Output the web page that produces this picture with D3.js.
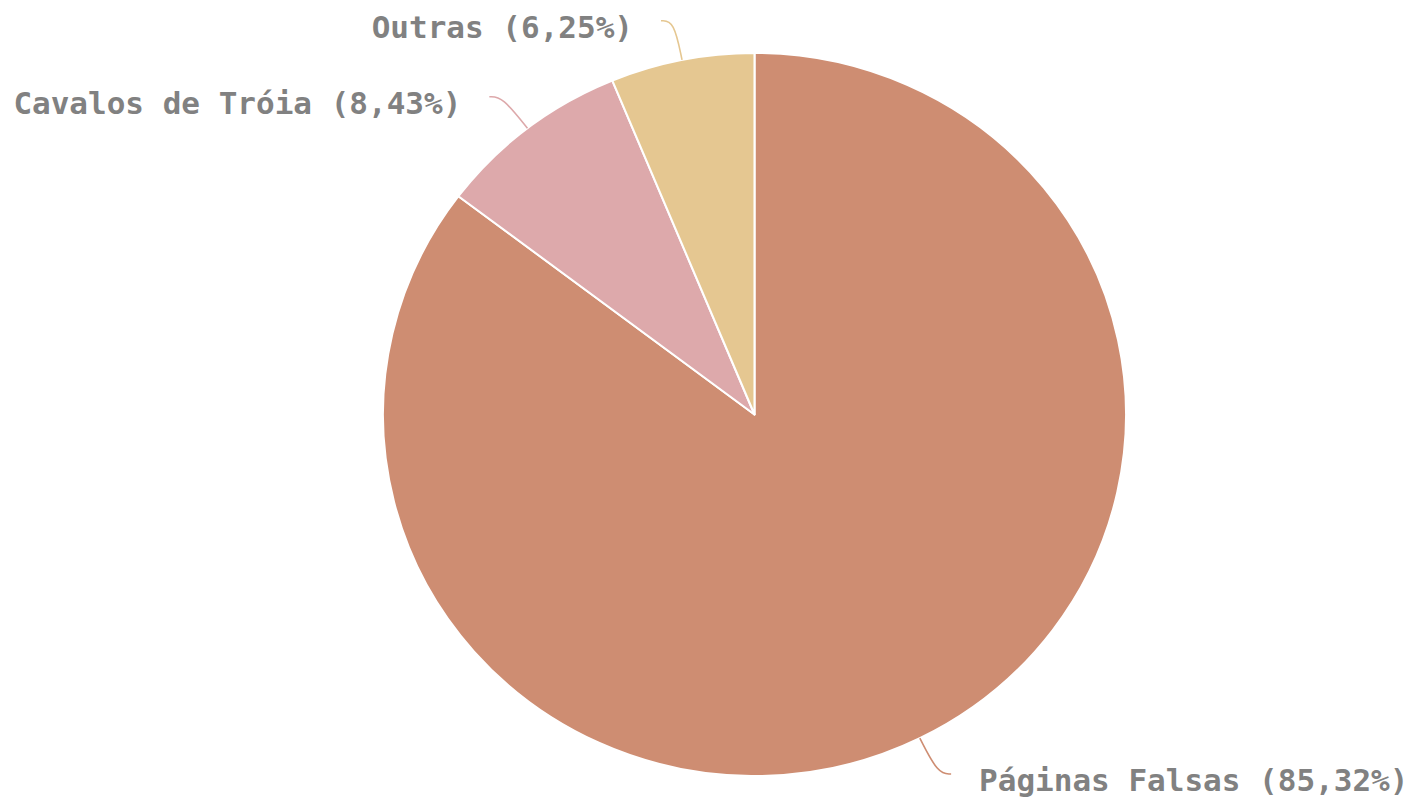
<!DOCTYPE html>
<html>
<head>
<meta charset="utf-8">
<script src="https://cdn.jsdelivr.net/npm/d3@7"></script>
<style>
  body { margin: 0; background: #fff; }
  .texto { font-family: "DejaVu Sans Mono", monospace; font-weight: bold; font-size: 31px; fill: #818181; }
</style>
</head>
<body>
<div id="chart"></div>
<script>
const width = 1412
const height = 806
const cx = 754.5
const cy = 414.5
const radius = 361.5
const stretch = 371 / 361   // the reference pie is a bit wider than tall

const categorias = ["Páginas Falsas", "Cavalos de Tróia", "Outras"]
const valores = [85.32, 8.43, 6.25]
const etiquetas = ["85,32%", "8,43%", "6,25%"]
const cores = ["#ce8d72", "#dda9ab", "#e5c791"]

const data = categorias.map((c, i) => ({ name: c, value: valores[i], label: etiquetas[i], color: cores[i] }))

const svg = d3.select("div#chart").append("svg").attr("width", width).attr("height", height)
const pieGroup = svg.append("g").attr("id", "pieGroup")
    .attr("transform", `translate(${cx}, ${cy}) scale(${stretch}, 1)`)
const labelGroup = svg.append("g").attr("id", "labelGroup")

const pie = d3.pie().value(d => d.value).sort(null)
const arc = d3.arc().innerRadius(0).outerRadius(radius)
const arcs = pie(data)

pieGroup.selectAll("path").data(arcs).enter().append("path")
    .attr("d", arc)
    .attr("fill", d => d.data.color)
    .attr("stroke", "#fff")
    .attr("stroke-width", 2)
    .attr("stroke-linejoin", "round")

// leader lines: radial piece then a short horizontal piece, smoothed
const len1 = 40
const len2 = 13
const line = d3.line().curve(d3.curveBasis)

arcs.forEach(d => {
    const a = (d.startAngle + d.endAngle) / 2
    const sx = Math.sin(a), sy = -Math.cos(a)
    const p0 = [cx + radius * sx * stretch, cy + radius * sy]
    const p1 = [cx + (radius + len1) * sx * stretch, cy + (radius + len1) * sy]
    const dir = sx < 0 ? -1 : 1
    const p2 = [p1[0] + dir * len2, p1[1]]
    labelGroup.append("path")
        .attr("d", line([p0, p1, p2]))
        .attr("fill", "none")
        .attr("stroke", d.data.color)
        .attr("stroke-width", 1.6)
    labelGroup.append("text")
        .attr("class", "texto")
        .attr("x", p2[0] + dir * 28)
        .attr("y", p2[1] + 17)
        .attr("text-anchor", dir < 0 ? "end" : "start")
        .text(`${d.data.name} (${d.data.label})`)
})
</script>
</body>
</html>
